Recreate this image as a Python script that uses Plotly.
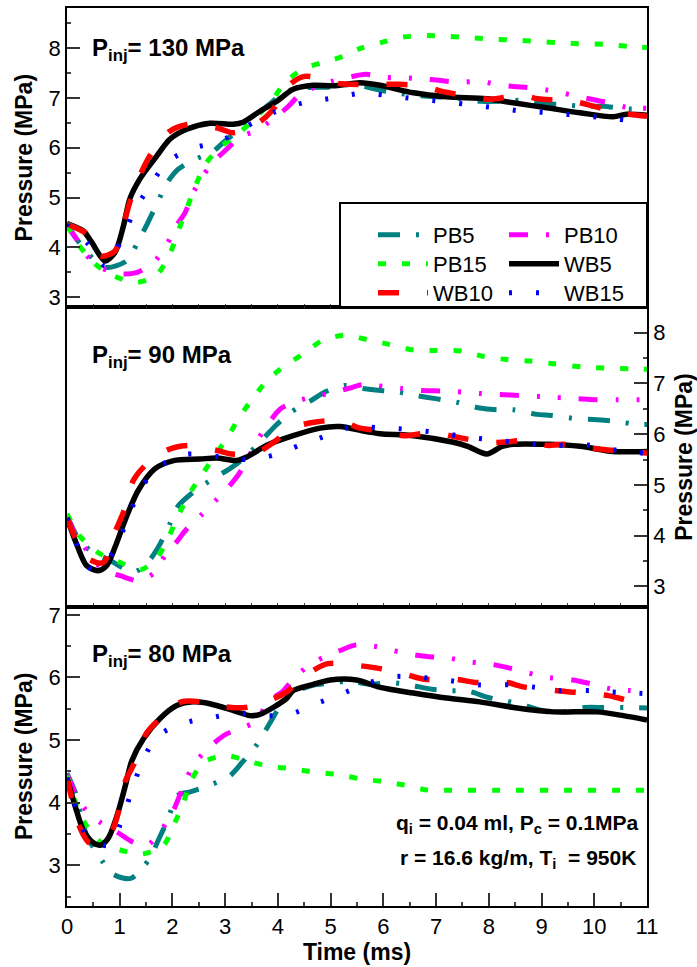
import plotly.graph_objects as go
from plotly.subplots import make_subplots

# ---------------- data: P_inj = 130 MPa (top) ----------------
t130_PB5 = [0, 0.18, 0.5, 0.75, 1.13, 1.33, 1.52, 1.73, 1.89, 2.11, 2.46, 2.74, 2.96, 3.34, 3.79, 4.17, 4.5, 5.02, 5.46, 5.83, 6.16, 6.63, 7.01, 7.36, 7.86, 8.24, 8.62, 9.0, 9.31, 9.82, 10.18, 10.58, 11]
p130_PB5 = [4.45, 4.17, 3.77, 3.60, 3.73, 4.08, 4.47, 4.93, 5.28, 5.57, 5.78, 5.90, 6.10, 6.43, 6.83, 7.13, 7.2, 7.22, 7.27, 7.18, 7.11, 7.05, 7.02, 7.0, 6.93, 6.93, 6.95, 6.89, 6.87, 6.83, 6.83, 6.78, 6.77]
t130_PB10 = [0, 0.18, 0.34, 0.63, 1.04, 1.33, 1.65, 1.89, 2.05, 2.24, 2.38, 2.57, 2.79, 3.03, 3.29, 3.60, 3.94, 4.2, 4.42, 4.72, 5.02, 5.30, 5.67, 6.03, 6.41, 6.76, 7.05, 7.44, 7.81, 8.15, 8.43, 8.79, 9.13, 9.60, 9.95, 10.31, 10.61, 11]
p130_PB10 = [4.45, 4.17, 3.88, 3.60, 3.47, 3.50, 3.71, 4.05, 4.40, 4.70, 5.07, 5.42, 5.73, 5.97, 6.22, 6.35, 6.60, 6.83, 7.07, 7.22, 7.33, 7.40, 7.47, 7.41, 7.40, 7.38, 7.35, 7.31, 7.33, 7.27, 7.23, 7.20, 7.15, 7.05, 6.97, 6.89, 6.81, 6.79]
t130_PB15 = [0, 0.21, 0.53, 0.91, 1.33, 1.70, 1.95, 2.11, 2.28, 2.45, 2.64, 2.91, 3.27, 3.60, 3.88, 4.13, 4.48, 4.86, 5.24, 5.59, 6.0, 6.38, 6.82, 7.25, 7.71, 8.15, 8.6, 9.06, 9.38, 9.82, 10.25, 10.66, 11]
p130_PB15 = [4.45, 4.07, 3.67, 3.42, 3.30, 3.45, 3.87, 4.33, 4.80, 5.27, 5.69, 6.01, 6.30, 6.63, 6.93, 7.30, 7.58, 7.71, 7.83, 8.0, 8.12, 8.22, 8.25, 8.23, 8.20, 8.17, 8.15, 8.12, 8.10, 8.08, 8.07, 8.03, 8.01]
t130_WB5 = [0, 0.31, 0.47, 0.72, 0.91, 1.07, 1.19, 1.38, 1.70, 1.95, 2.27, 2.71, 3.15, 3.34, 3.66, 3.98, 4.29, 4.67, 5.05, 5.56, 5.94, 6.57, 7.2, 7.96, 8.46, 9.10, 9.73, 10.36, 10.61, 11]
p130_WB5 = [4.48, 4.33, 4.10, 3.73, 3.90, 4.43, 4.97, 5.37, 5.83, 6.17, 6.37, 6.49, 6.47, 6.51, 6.73, 6.93, 7.17, 7.25, 7.24, 7.30, 7.25, 7.10, 7.02, 6.98, 6.90, 6.80, 6.70, 6.62, 6.67, 6.65]
t130_WB10 = [0, 0.09, 0.38, 0.63, 0.91, 1.1, 1.21, 1.42, 1.61, 1.95, 2.33, 2.84, 3.16, 3.63, 3.88, 4.23, 4.51, 5.2, 5.94, 6.32, 6.79, 7.11, 7.64, 8.02, 8.62, 8.93, 9.31, 9.69, 10.17, 10.55, 11]
p130_WB10 = [4.48, 4.43, 4.27, 3.83, 3.93, 4.57, 4.97, 5.53, 5.90, 6.33, 6.47, 6.40, 6.30, 6.50, 6.73, 7.27, 7.43, 7.28, 7.27, 7.27, 7.23, 7.13, 7.03, 6.97, 7.05, 6.98, 6.95, 6.91, 6.78, 6.69, 6.63]
t130_WB15 = [0, 0.40, 0.72, 1.04, 1.29, 1.57, 1.89, 2.36, 2.9, 3.41, 3.91, 4.48, 5.08, 5.56, 6.05, 6.6, 7.1, 7.57, 8.12, 8.65, 9.16, 9.85, 10.39, 10.93, 11]
p130_WB15 = [4.48, 4.07, 3.63, 4.17, 4.77, 5.22, 5.70, 5.98, 6.13, 6.43, 6.70, 6.90, 7.00, 7.09, 7.05, 6.98, 6.93, 6.87, 6.80, 6.73, 6.70, 6.63, 6.58, 6.50, 6.49]

# ---------------- data: P_inj = 90 MPa (middle) ----------------
t90_PB5 = [0, 0.2, 0.45, 0.82, 1.26, 1.52, 1.73, 1.95, 2.09, 2.35, 2.81, 3.09, 3.38, 3.72, 3.96, 4.23, 4.61, 4.89, 5.27, 5.62, 5.95, 6.28, 6.63, 6.99, 7.39, 7.80, 8.15, 8.46, 8.91, 9.19, 9.70, 9.98, 10.33, 10.84, 11]
p90_PB5 = [4.40, 3.97, 3.70, 3.51, 3.28, 3.46, 3.77, 4.23, 4.56, 4.82, 5.15, 5.32, 5.55, 5.91, 6.17, 6.42, 6.65, 6.83, 6.96, 6.90, 6.86, 6.83, 6.76, 6.70, 6.63, 6.52, 6.48, 6.48, 6.39, 6.37, 6.30, 6.29, 6.26, 6.19, 6.19]
t90_PB10 = [0, 0.15, 0.28, 0.47, 0.72, 1.01, 1.37, 1.67, 1.86, 2.05, 2.27, 2.54, 2.79, 3.03, 3.25, 3.46, 3.63, 3.82, 4.05, 4.39, 4.74, 4.99, 5.33, 5.63, 6.01, 6.35, 6.73, 7.12, 7.5, 7.86, 8.21, 8.60, 9.0, 9.67, 10.03, 10.44, 11]
p90_PB10 = [4.40, 4.04, 3.87, 3.55, 3.31, 3.21, 3.11, 3.28, 3.61, 3.84, 4.13, 4.40, 4.66, 4.92, 5.20, 5.58, 5.91, 6.21, 6.50, 6.66, 6.76, 6.80, 6.90, 6.98, 6.94, 6.90, 6.86, 6.85, 6.83, 6.80, 6.78, 6.76, 6.74, 6.70, 6.68, 6.68, 6.68]
t90_PB15 = [0, 0.25, 0.63, 0.99, 1.40, 1.71, 1.94, 2.14, 2.36, 2.59, 2.82, 3.06, 3.28, 3.52, 3.80, 4.13, 4.48, 4.83, 5.27, 5.70, 6.11, 6.57, 7.02, 7.48, 7.91, 8.35, 8.79, 9.22, 9.82, 10.26, 10.69, 11]
p90_PB15 = [4.43, 3.98, 3.64, 3.48, 3.33, 3.57, 4.0, 4.46, 4.89, 5.25, 5.6, 5.97, 6.35, 6.70, 7.06, 7.35, 7.58, 7.84, 7.95, 7.86, 7.77, 7.66, 7.65, 7.64, 7.53, 7.47, 7.44, 7.39, 7.32, 7.30, 7.29, 7.28]
t90_WB5 = [0, 0.18, 0.37, 0.59, 0.75, 0.91, 1.10, 1.35, 1.67, 2.02, 2.52, 2.84, 3.22, 3.41, 3.79, 4.29, 4.80, 5.18, 5.62, 5.94, 6.57, 7.33, 7.6, 7.96, 8.25, 8.47, 9.10, 9.73, 10.36, 11]
p90_WB5 = [4.35, 3.84, 3.41, 3.31, 3.41, 3.77, 4.30, 4.89, 5.32, 5.48, 5.51, 5.53, 5.48, 5.55, 5.78, 5.97, 6.12, 6.15, 6.06, 6.01, 5.97, 5.84, 5.76, 5.61, 5.76, 5.80, 5.80, 5.76, 5.66, 5.66]
t90_WB10 = [0, 0.37, 0.69, 0.91, 1.07, 1.26, 1.48, 1.90, 2.32, 2.84, 3.12, 3.60, 3.88, 4.32, 4.72, 5.18, 5.52, 5.97, 6.39, 6.95, 7.36, 7.93, 8.24, 8.78, 9.10, 9.41, 9.73, 10.26, 10.68, 11]
p90_WB10 = [4.35, 3.57, 3.47, 4.07, 4.46, 5.09, 5.38, 5.69, 5.78, 5.68, 5.61, 5.64, 5.81, 6.14, 6.24, 6.27, 6.13, 6.06, 5.97, 6.04, 5.95, 5.84, 5.84, 5.88, 5.78, 5.80, 5.75, 5.69, 5.64, 5.63]
t90_WB15 = [0, 0.18, 0.47, 0.88, 1.12, 1.35, 1.67, 2.24, 3.4, 3.94, 4.41, 4.87, 5.35, 5.89, 6.49, 7.04, 7.61, 8.15, 8.65, 9.25, 9.93, 10.44, 11]
p90_WB15 = [4.35, 3.84, 3.34, 3.67, 4.26, 4.82, 5.30, 5.60, 5.5, 5.59, 5.78, 5.95, 6.13, 6.13, 6.09, 6.03, 5.94, 5.88, 5.82, 5.78, 5.78, 5.68, 5.62]

# ---------------- data: P_inj = 80 MPa (bottom) ----------------
t80_PB5 = [0, 0.19, 0.28, 0.40, 0.66, 0.85, 1.21, 1.57, 1.73, 1.89, 2.11, 2.32, 2.71, 3.09, 3.33, 3.57, 3.84, 4.01, 4.23, 4.64, 4.99, 5.33, 5.78, 6.13, 6.50, 6.92, 7.26, 7.61, 7.99, 8.34, 8.72, 9.27, 9.82, 10.18, 10.58, 11]
p80_PB5 = [4.47, 4.09, 3.72, 3.43, 3.08, 2.87, 2.79, 3.11, 3.40, 3.69, 4.12, 4.17, 4.28, 4.43, 4.65, 4.89, 5.26, 5.50, 5.72, 5.87, 5.91, 5.94, 5.89, 5.92, 5.88, 5.81, 5.79, 5.78, 5.68, 5.62, 5.54, 5.43, 5.52, 5.52, 5.52, 5.51]
t80_PB10 = [0, 0.19, 0.36, 0.64, 0.95, 1.25, 1.52, 1.78, 2.02, 2.14, 2.28, 2.46, 2.76, 3.01, 3.31, 3.60, 3.82, 4.07, 4.29, 4.55, 4.86, 5.18, 5.48, 5.81, 6.18, 6.52, 6.87, 7.23, 7.63, 7.99, 8.34, 8.64, 9.03, 9.60, 9.93, 10.3, 10.68, 11]
p80_PB10 = [4.45, 4.09, 3.88, 3.68, 3.53, 3.37, 3.32, 3.55, 3.88, 4.12, 4.41, 4.67, 4.93, 5.09, 5.19, 5.31, 5.63, 5.76, 5.97, 6.17, 6.32, 6.43, 6.52, 6.50, 6.43, 6.37, 6.33, 6.31, 6.25, 6.22, 6.16, 6.10, 6.01, 5.96, 5.90, 5.82, 5.79, 5.79]
t80_PB15 = [0, 0.16, 0.34, 0.61, 0.99, 1.42, 1.83, 2.03, 2.21, 2.36, 2.60, 3.03, 3.44, 3.84, 4.29, 4.67, 5.15, 5.56, 5.97, 6.41, 6.85, 7.30, 8.5, 9.5, 10.5, 11]
p80_PB15 = [4.43, 4.01, 3.67, 3.39, 3.25, 3.18, 3.32, 3.65, 4.01, 4.36, 4.65, 4.75, 4.66, 4.58, 4.54, 4.49, 4.45, 4.38, 4.34, 4.28, 4.20, 4.20, 4.20, 4.20, 4.20, 4.20]
t80_WB5 = [0, 0.16, 0.31, 0.5, 0.63, 0.78, 0.94, 1.10, 1.23, 1.45, 1.76, 2.08, 2.40, 2.71, 3.16, 3.47, 3.66, 3.91, 4.17, 4.29, 4.67, 4.99, 5.49, 5.94, 6.57, 7.2, 7.83, 8.47, 9.23, 10.05, 10.55, 11]
p80_WB5 = [4.40, 3.93, 3.56, 3.36, 3.32, 3.43, 3.77, 4.25, 4.67, 5.02, 5.34, 5.55, 5.61, 5.58, 5.47, 5.39, 5.41, 5.52, 5.67, 5.79, 5.89, 5.96, 5.96, 5.84, 5.75, 5.67, 5.61, 5.52, 5.45, 5.45, 5.39, 5.32]
t80_WB10 = [0, 0.25, 0.44, 0.82, 0.97, 1.10, 1.29, 1.50, 1.76, 2.17, 2.55, 3.02, 3.38, 3.82, 4.17, 4.57, 4.95, 5.52, 5.94, 6.38, 6.79, 7.39, 7.74, 8.34, 8.65, 9.26, 9.67, 10.27, 10.66, 11]
p80_WB10 = [4.40, 3.59, 3.35, 3.51, 3.83, 4.33, 4.65, 5.10, 5.34, 5.61, 5.61, 5.53, 5.52, 5.63, 5.77, 6.06, 6.22, 6.19, 6.14, 6.06, 5.97, 5.97, 5.92, 5.92, 5.85, 5.79, 5.76, 5.71, 5.63, 5.60]
t80_WB15 = [0, 0.16, 0.40, 0.80, 1.06, 1.25, 1.45, 1.73, 2.21, 2.70, 3.21, 3.74, 4.23, 4.69, 5.16, 5.62, 6.11, 6.69, 7.25, 7.84, 8.43, 9.01, 9.34, 9.93, 10.5, 11]
p80_WB15 = [4.40, 3.93, 3.43, 3.32, 3.77, 4.25, 4.70, 5.07, 5.27, 5.35, 5.43, 5.39, 5.41, 5.57, 5.72, 5.88, 6.01, 6.00, 5.95, 5.88, 5.88, 5.83, 5.79, 5.79, 5.76, 5.74]

series_names = ["PB5", "PB10", "PB15", "WB5", "WB10", "WB15"]
panel_labels = ["130", "90", "80"]
panels = [
    [(t130_PB5, p130_PB5), (t130_PB10, p130_PB10), (t130_PB15, p130_PB15),
     (t130_WB5, p130_WB5), (t130_WB10, p130_WB10), (t130_WB15, p130_WB15)],
    [(t90_PB5, p90_PB5), (t90_PB10, p90_PB10), (t90_PB15, p90_PB15),
     (t90_WB5, p90_WB5), (t90_WB10, p90_WB10), (t90_WB15, p90_WB15)],
    [(t80_PB5, p80_PB5), (t80_PB10, p80_PB10), (t80_PB15, p80_PB15),
     (t80_WB5, p80_WB5), (t80_WB10, p80_WB10), (t80_WB15, p80_WB15)],
]

styles = {
    "PB5": dict(color="#008080", width=5, dash="22px,16px,3px,16px"),
    "PB10": dict(color="#FF00FF", width=5, dash="19px,18px,3px,18px,3px,18px"),
    "PB15": dict(color="#00FF00", width=5, dash="8px,16px"),
    "WB5": dict(color="#000000", width=5.5, dash="solid"),
    "WB10": dict(color="#FF0000", width=5.5, dash="21px,28px"),
    "WB15": dict(color="#0000FF", width=5, dash="3px,24px"),
}

FONT = "Arial, Liberation Sans, sans-serif"
W, H = 697, 967
L, R, T, B = 67, 50, 8, 61

def px2paper_x(px):
    return (px - L) / (W - L - R)

def px2paper_y(py):
    return (H - B - py) / (H - T - B)

# legend slots: (legend id, text-left px, row-centre px)
legend_slot = {
    "PB5": ("legend", 373, 235), "PB10": ("legend2", 504, 235),
    "PB15": ("legend3", 373, 264), "WB5": ("legend4", 504, 264),
    "WB10": ("legend5", 373, 293), "WB15": ("legend6", 504, 293),
}

fig = make_subplots(rows=3, cols=1, shared_xaxes=True, vertical_spacing=0)

for r, panel in enumerate(panels, start=1):
    for name, (tt, pp) in zip(series_names, panel):
        fig.add_trace(go.Scatter(
            x=tt, y=pp, mode="lines", name=name,
            line=dict(shape="spline", smoothing=0.8, **styles[name]),
            showlegend=(r == 1), legend=legend_slot[name][0], hoverinfo="skip",
        ), row=r, col=1)

axis_common = dict(showline=True, linecolor="black", linewidth=1.5, mirror=True,
                   showgrid=False, zeroline=False, automargin=False)
tickfont = dict(family=FONT, size=22, color="black")
titlefont = dict(family=FONT, size=23, color="black", weight="bold")

for r in (1, 2):
    fig.update_xaxes(range=[0, 11], dtick=0.5, ticks="inside", ticklen=4, tickwidth=1,
                     tickcolor="#444", showticklabels=False, row=r, col=1, **axis_common)
fig.update_xaxes(range=[0, 11], dtick=1, tick0=0, ticks="inside", ticklen=13, tickwidth=1.5,
                 tickcolor="#333", tickfont=tickfont,
                 minor=dict(dtick=0.5, ticks="inside", ticklen=4, tickcolor="#444"),
                 title=dict(text="<b>Time (ms)</b>", font=titlefont, standoff=4),
                 row=3, col=1, **axis_common)

ycommon = dict(dtick=1, ticks="inside", ticklen=13, tickwidth=1.5, tickcolor="#333",
               tickfont=tickfont,
               minor=dict(dtick=0.5, ticks="inside", ticklen=4, tickcolor="#444"))
fig.update_yaxes(range=[2.8, 8.8], title=dict(text="<b>Pressure (MPa)</b>", font=titlefont, standoff=10),
                 row=1, col=1, **ycommon, **axis_common)
fig.update_yaxes(range=[2.6, 8.5], side="right",
                 title=dict(text="<b>Pressure (MPa)</b>", font=titlefont, standoff=12),
                 row=2, col=1, **ycommon, **axis_common)
fig.update_yaxes(range=[2.35, 7.13], title=dict(text="<b>Pressure (MPa)</b>", font=titlefont, standoff=10),
                 row=3, col=1, **ycommon, **axis_common)

ann_font = dict(family=FONT, size=24, color="black")
for lab, py in zip(panel_labels, [50, 356, 655]):
    fig.add_annotation(text="<b>P<sub>inj</sub>= %s MPa</b>" % lab, xref="paper", yref="paper",
                       x=px2paper_x(90), y=px2paper_y(py), xanchor="left", yanchor="middle",
                       showarrow=False, font=ann_font)

small_font = dict(family=FONT, size=21, color="black")
fig.add_annotation(text="<b>q<sub>i</sub> = 0.04 ml, P<sub>c</sub> = 0.1MPa</b>", xref="paper", yref="paper",
                   x=px2paper_x(641), y=px2paper_y(824), xanchor="right", yanchor="middle",
                   showarrow=False, font=small_font)
fig.add_annotation(text="<b>r = 16.6 kg/m, T<sub>i</sub>  = 950K</b>", xref="paper", yref="paper",
                   x=px2paper_x(638), y=px2paper_y(859), xanchor="right", yanchor="middle",
                   showarrow=False, font=small_font)

fig.add_shape(type="rect", xref="paper", yref="paper",
              x0=px2paper_x(340), x1=1.0, y0=px2paper_y(307), y1=px2paper_y(203),
              line=dict(color="black", width=2), fillcolor="white", layer="above")

leg_common = dict(font=dict(family=FONT, size=22, color="black"), bgcolor="rgba(0,0,0,0)",
                  borderwidth=0, itemwidth=50, yanchor="middle", xanchor="left",
                  orientation="v")
legends = {}
for name, (lid, lx, ly) in legend_slot.items():
    legends[lid] = dict(x=px2paper_x(lx), y=px2paper_y(ly), **leg_common)

fig.update_layout(
    width=W, height=H,
    margin=dict(l=L, r=R, t=T, b=B, autoexpand=False),
    paper_bgcolor="white", plot_bgcolor="white",
    font=dict(family=FONT),
    **legends,
)

fig.write_html("out.html", config={"displayModeBar": False},
               post_script="document.body.style.margin='0px';")
